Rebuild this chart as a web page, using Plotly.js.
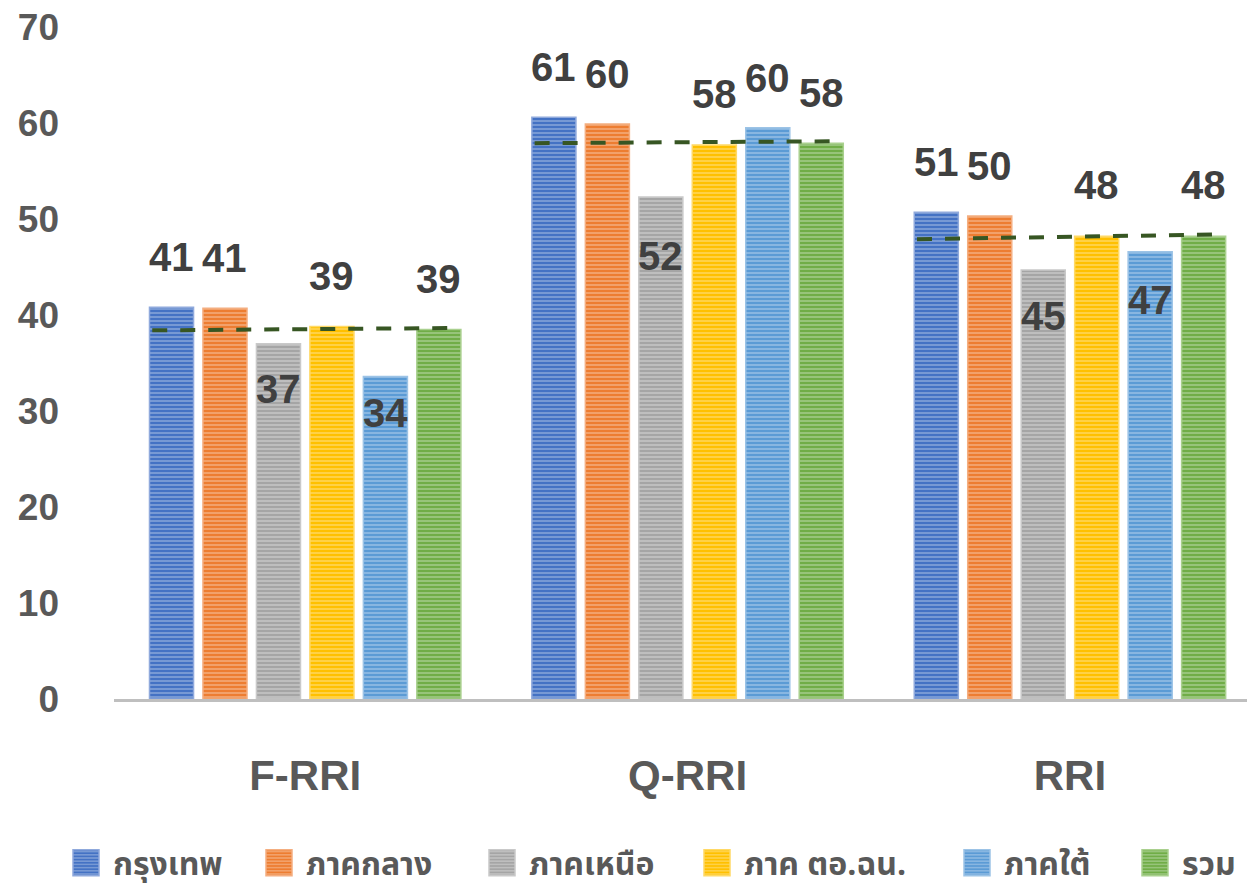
<!DOCTYPE html>
<html>
<head>
<meta charset="utf-8">
<script src="https://cdn.plot.ly/plotly-3.0.1.min.js"></script>
<style>
  html, body { margin: 0; padding: 0; background: #ffffff; }
  #chart { width: 1247px; height: 890px; }
</style>
</head>
<body>
<div id="chart"></div>
<script>
// Index groups on the x axis
const categories = ['F-RRI', 'Q-RRI', 'RRI'];

// Regional series (values per index group)
const seriesNames = ['กรุงเทพ', 'ภาคกลาง', 'ภาคเหนือ', 'ภาค ตอ.ฉน.', 'ภาคใต้', 'รวม'];
const bangkok   = [40.8, 60.6, 50.7];
const central   = [40.7, 59.9, 50.3];
const northern  = [37.0, 52.3, 44.7];
const northeast = [38.8, 57.7, 48.2];
const southern  = [33.6, 59.5, 46.6];
const overall   = [38.5, 57.9, 48.2];

// Dashed reference line across each group (start / end level)
const refStart = [38.4, 57.9, 47.9];
const refEnd   = [38.65, 58.1, 48.4];

const yTicks = [0, 10, 20, 30, 40, 50, 60, 70];

const seriesValues = [bangkok, central, northern, northeast, southern, overall];
const seriesColors = ['#4472C4', '#ED7D31', '#A5A5A5', '#FFC000', '#5B9BD5', '#70AD47'];
const seriesEdges  = ['#8FA9DC', '#F4AE80', '#C9C9C9', '#FFD966', '#9CC3E6', '#A9D08E'];

// Bar layout parameters
const BARGAP = 0.161;
const GROUPGAP = 0.176;
const slot = (1 - BARGAP) / seriesValues.length;

// Vertical label offsets (px) for each group / series: positive above the bar top, negative inside
const labelShift = [
  [50, 50, -45, 51, -37, 50],
  [50, 50, -59, 51, 50, 50],
  [50, 50, -46, 51, -48, 51]
];

// Left edge (px) of each legend entry along the bottom row
const legendLeft = [59, 252, 475, 690, 950, 1128];

const xPos = categories.map((_, i) => i);
const legendId = k => (k === 0 ? 'legend' : 'legend' + (k + 1));

const traces = seriesValues.map((vals, k) => ({
  type: 'bar',
  name: seriesNames[k],
  legend: legendId(k),
  x: xPos,
  y: vals,
  marker: {
    color: seriesColors[k],
    line: { width: 1.5, color: seriesEdges[k] },
    pattern: {
      shape: '-',
      fillmode: 'overlay',
      fgcolor: 'rgba(255,255,255,0.65)',
      size: 4,
      solidity: 0.42
    }
  },
  hoverinfo: 'skip'
}));

// Reference dashed segments
const HALF = 0.40;
const refX = [], refY = [];
categories.forEach((_, i) => {
  refX.push(i - HALF, i + HALF, null);
  refY.push(refStart[i], refEnd[i], null);
});
traces.push({
  type: 'scatter',
  mode: 'lines',
  x: refX,
  y: refY,
  showlegend: false,
  hoverinfo: 'skip',
  line: { color: '#375623', width: 4, dash: '15px,13px' }
});

// Value labels
const annotations = [];
seriesValues.forEach((vals, k) => {
  vals.forEach((v, i) => {
    annotations.push({
      x: i + (k - (seriesValues.length - 1) / 2) * slot,
      y: v,
      xref: 'x', yref: 'y',
      text: String(Math.round(v)),
      showarrow: false,
      yanchor: 'middle',
      yshift: labelShift[i][k],
      font: { family: '"Liberation Sans", Arial, sans-serif', size: 40, color: '#404040', weight: 'bold' }
    });
  });
});

const tickFont = { family: '"Liberation Sans", Arial, sans-serif', size: 37, color: '#595959', weight: 'bold' };

const layout = {
  width: 1247,
  height: 890,
  margin: { l: 114, r: 0, t: 27, b: 191 },
  paper_bgcolor: '#ffffff',
  plot_bgcolor: '#ffffff',
  barmode: 'group',
  bargap: BARGAP,
  bargroupgap: GROUPGAP,
  showlegend: true,
  xaxis: {
    type: 'linear',
    range: [-0.5, 2.463],
    tickvals: xPos,
    ticktext: categories,
    showgrid: false,
    zeroline: false,
    showline: true,
    linecolor: '#BFBFBF',
    linewidth: 3,
    ticks: '',
    ticklabelstandoff: 38,
    tickfont: { family: '"Liberation Sans", Arial, sans-serif', size: 42, color: '#595959', weight: 'bold' },
    fixedrange: true
  },
  yaxis: {
    range: [0, 70],
    tickvals: yTicks,
    showgrid: false,
    zeroline: false,
    showline: false,
    ticks: '',
    ticklabelstandoff: 54,
    tickfont: tickFont,
    fixedrange: true
  },
  annotations: annotations
};

// One single-entry legend per series, laid out along the bottom row
seriesNames.forEach((_, k) => {
  layout[legendId(k)] = {
    orientation: 'h',
    xref: 'container', yref: 'container',
    x: legendLeft[k] / 1247, y: 1 - 863 / 890,
    xanchor: 'left', yanchor: 'middle',
    itemwidth: 44,
    bgcolor: 'rgba(0,0,0,0)',
    font: { family: '"Noto Sans Thai", "Noto Sans Thai UI", "Liberation Sans", sans-serif', size: 32, color: '#595959', weight: 'bold' },
    itemclick: false
  };
});

// Larger square legend swatches
function enlargeSwatches() {
  document.querySelectorAll('#chart .legendpoints path').forEach(p => {
    p.setAttribute('d', 'M13,13H-13V-13H13Z');
  });
}

Plotly.newPlot('chart', traces, layout, { displayModeBar: false, staticPlot: true })
  .then(enlargeSwatches);
</script>
</body>
</html>
